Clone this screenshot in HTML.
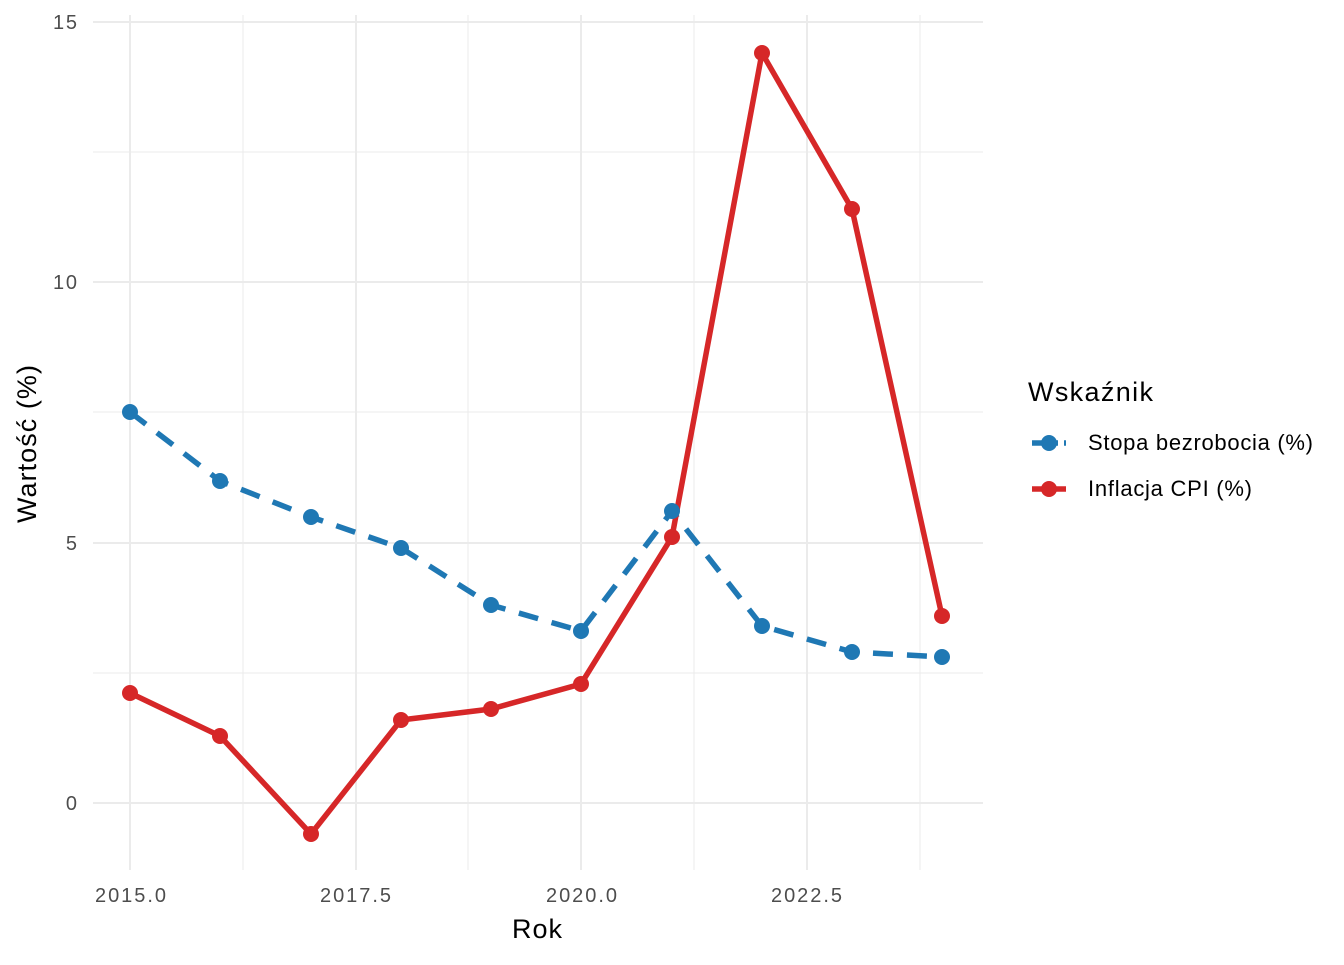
<!DOCTYPE html>
<html><head><meta charset="utf-8"><style>body{margin:0;background:#fff}</style></head><body>
<svg width="1344" height="960" xmlns="http://www.w3.org/2000/svg" font-family="Liberation Sans, DejaVu Sans, sans-serif">
<rect width="1344" height="960" fill="#fff"/>
<g stroke="#ebebeb" stroke-width="1">
<line x1="93" x2="983" y1="152" y2="152"/><line x1="93" x2="983" y1="412" y2="412"/><line x1="93" x2="983" y1="673" y2="673"/>
<line x1="243" x2="243" y1="15" y2="870"/><line x1="468" x2="468" y1="15" y2="870"/><line x1="694" x2="694" y1="15" y2="870"/><line x1="920" x2="920" y1="15" y2="870"/>
</g>
<g stroke="#ebebeb" stroke-width="2">
<line x1="93" x2="983" y1="22" y2="22"/><line x1="93" x2="983" y1="282" y2="282"/><line x1="93" x2="983" y1="543" y2="543"/><line x1="93" x2="983" y1="803" y2="803"/>
<line x1="130" x2="130" y1="15" y2="870"/><line x1="356" x2="356" y1="15" y2="870"/><line x1="581" x2="581" y1="15" y2="870"/><line x1="807" x2="807" y1="15" y2="870"/>
</g>
<polyline fill="none" stroke="#1f78b4" stroke-width="5.5" stroke-dasharray="20,14" points="130,412 220,481 311,517 401,548 491,605 581,631 672,511 762,626 852,652 942,657"/>
<polyline fill="none" stroke="#d62728" stroke-width="5.5" points="130,693 220,736 311,834 401,720 491,709 581,684 672,537 762,53 852,209 942,616"/>
<g fill="#1f78b4"><circle cx="130" cy="412" r="8"/><circle cx="220" cy="481" r="8"/><circle cx="311" cy="517" r="8"/><circle cx="401" cy="548" r="8"/><circle cx="491" cy="605" r="8"/><circle cx="581" cy="631" r="8"/><circle cx="672" cy="511" r="8"/><circle cx="762" cy="626" r="8"/><circle cx="852" cy="652" r="8"/><circle cx="942" cy="657" r="8"/></g>
<g fill="#d62728"><circle cx="130" cy="693" r="8"/><circle cx="220" cy="736" r="8"/><circle cx="311" cy="834" r="8"/><circle cx="401" cy="720" r="8"/><circle cx="491" cy="709" r="8"/><circle cx="581" cy="684" r="8"/><circle cx="672" cy="537" r="8"/><circle cx="762" cy="53" r="8"/><circle cx="852" cy="209" r="8"/><circle cx="942" cy="616" r="8"/></g>
<g fill="#4d4d4d" font-size="20" text-anchor="end">
<text x="77" y="29" textLength="24">15</text><text x="77" y="289" textLength="24">10</text><text x="77" y="550">5</text><text x="77" y="810">0</text>
</g>
<g fill="#4d4d4d" font-size="20">
<text x="95" y="902" textLength="71">2015.0</text><text x="320" y="902" textLength="71">2017.5</text><text x="546" y="902" textLength="71">2020.0</text><text x="771" y="902" textLength="71">2022.5</text>
</g>
<text x="512" y="938" font-size="27" textLength="50" fill="#000">Rok</text>
<text transform="translate(36,523) rotate(-90)" font-size="27" textLength="158" fill="#000">Wartość (%)</text>
<text x="1028" y="401" font-size="27" textLength="125" fill="#000">Wskaźnik</text>
<line x1="1032" x2="1066" y1="443" y2="443" stroke="#1f78b4" stroke-width="5.5" stroke-dasharray="10,6"/>
<circle cx="1049" cy="443" r="8" fill="#1f78b4"/>
<line x1="1032" x2="1066" y1="489" y2="489" stroke="#d62728" stroke-width="5.5"/>
<circle cx="1049" cy="489" r="8" fill="#d62728"/>
<text x="1088" y="450" font-size="22" textLength="225" fill="#000">Stopa bezrobocia (%)</text>
<text x="1088" y="496" font-size="22" textLength="164" fill="#000">Inflacja CPI (%)</text>
</svg>
</body></html>
